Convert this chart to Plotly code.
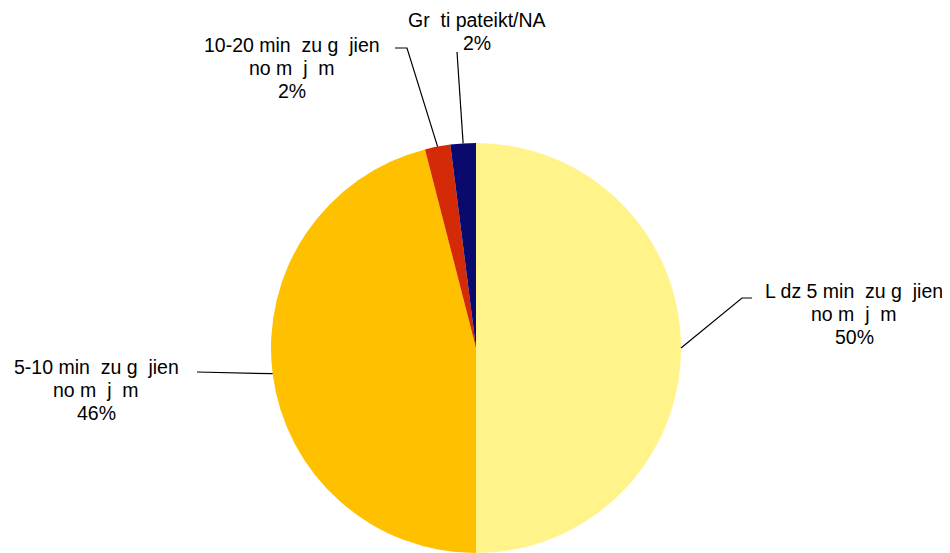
import math
import plotly.graph_objects as go

label_lines = [
    ["L dz 5 min  zu g  jien", "no m  j  m"],
    ["5-10 min  zu g  jien", "no m  j  m"],
    ["10-20 min  zu g  jien", "no m  j  m"],
    ["Gr  ti pateikt/NA"],
]
values = [50, 46, 2, 2]
colors = ["#FFF38A", "#FFC000", "#D42A08", "#0A0A6E"]

W, H = 950, 553
OFF = 8  # page body margin
cx, cy, r = 476 - OFF, 348 - OFF, 205

fig = go.Figure(go.Pie(
    labels=[" ".join(l) for l in label_lines], values=values, sort=False,
    direction="clockwise", rotation=0,
    marker=dict(colors=colors, line=dict(width=0)),
    textinfo="none", hoverinfo="label+percent", showlegend=False,
    domain=dict(x=[(cx - r) / W, (cx + r) / W], y=[(H - cy - r) / H, (H - cy + r) / H]),
))

total = sum(values)
cum = 0
edge = []
for v in values:
    mid = (cum + v / 2) / total * 2 * math.pi
    edge.append((cx + r * math.sin(mid), cy - r * math.cos(mid)))
    cum += v

# label centre x and first-line centre y (reference pixel coords)
label_pos = [(854, 291), (96, 367), (292, 45), (477, 20)]
elbows = [[(742, 298), (752, 298)], [(197, 372)], [(407, 48), (395, 48)], [(457, 52)]]
LINE = 23

shapes = []
annotations = []
for i, v in enumerate(values):
    pct = round(v / total * 100)
    lx, ly = label_pos[i]
    lines = label_lines[i] + [f"{pct}%"]
    for k, t in enumerate(lines):
        annotations.append(dict(
            x=(lx - OFF) / W, y=1 - (ly - OFF + k * LINE) / H,
            xref="paper", yref="paper", xanchor="center", yanchor="middle",
            text=t, showarrow=False,
            font=dict(family="Liberation Sans, Arial, sans-serif", size=19.5, color="#000000"),
        ))
    pts = [edge[i]] + [(x - OFF, y - OFF) for x, y in elbows[i]]
    path = "M " + " L ".join(f"{p[0]/W:.5f},{1 - p[1]/H:.5f}" for p in pts)
    shapes.append(dict(type="path", xref="paper", yref="paper", path=path,
                       line=dict(color="#000000", width=1.2)))

fig.update_layout(
    width=W, height=H, margin=dict(l=0, r=0, t=0, b=0),
    paper_bgcolor="white", plot_bgcolor="white",
    shapes=shapes, annotations=annotations,
)
fig.write_html("out.html")
